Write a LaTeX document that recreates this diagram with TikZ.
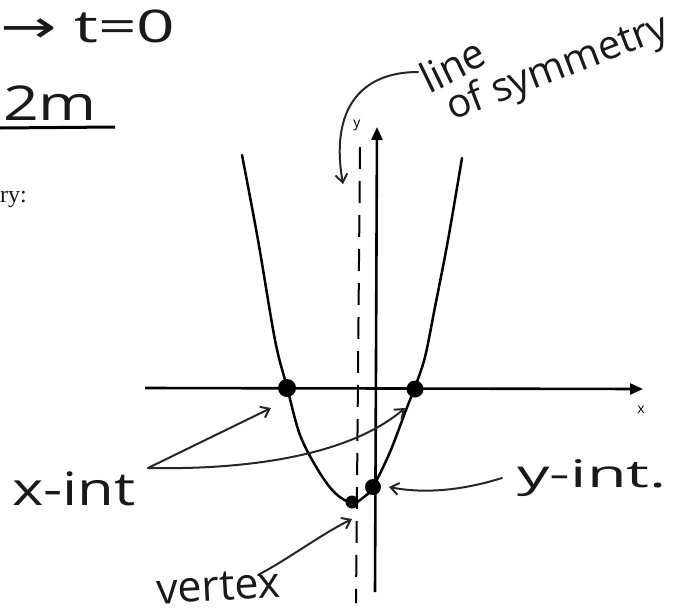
\documentclass[tikz,border=0pt]{standalone}
\usepackage{fontspec}
\setmainfont{Open Sans}
\newfontfamily\djv{DejaVu Sans}
\newfontfamily\tms{Liberation Serif}
\usetikzlibrary{arrows.meta}
\begin{document}
\begin{tikzpicture}[x=1pt,y=-1pt,
  axis/.style={line width=2.6pt,-{Triangle[length=13pt,width=11pt]}},
  curve/.style={line width=2.5pt,line cap=round},
  pointer/.style={line width=2pt,draw=black!85,line cap=round,-{Straight Barb[length=8pt,width=12pt,line width=2pt]}},
  hand/.style={inner sep=0pt,anchor=base west,text=black!90},
  dot/.style={circle,fill=black,inner sep=0pt,minimum size=#1},
  small/.style={inner sep=0pt,font=\fontsize{14}{16}\selectfont}
]
\useasboundingbox (0,0) rectangle (679,613);

% top-left fragments
\node[hand,font=\fontsize{45}{50}\selectfont,xscale=1.5] (t0) at (0,42) {{\djv →} t=0};
\node[hand,font=\fontsize{48}{52}\selectfont,xscale=1.3] (m2) at (3,120) {2m};
\coordinate (ula) at (0,128);
\coordinate (ulb) at (115,127);
\draw[line width=3pt] (ula) -- (ulb);
\node[hand,font=\tms\fontsize{24}{26}\selectfont] (ry) at (0,202) {ry:};

% axes
\coordinate (xl) at (145,388);
\coordinate (xr) at (643,389);
\coordinate (yb) at (375,592);
\coordinate (yt) at (377,127);
\draw[axis] (xl) -- (xr);
\draw[axis] (yb) -- (yt);
\node[small] (ylab) at (357,125) {y};
\node[small] (xlab) at (641,410) {x};

% line of symmetry (dashed)
\coordinate (st) at (360,147);
\coordinate (sb) at (356,603);
\draw[line width=2pt,dash pattern=on 22pt off 12pt] (st) -- (sb);

% parabola
\draw[curve] plot[smooth,tension=0.55] coordinates {
  (242,155) (258,240) (275,340) (287,387) (300,435) (318,470) (335,493)
  (352,503) (364,497) (373,487) (390,452) (406,410) (415,387) (425,357)
  (435,307) (448,240) (462,158)};

% points
\node[dot=18pt] (r1) at (287,388) {};
\node[dot=17pt] (r2) at (415,389) {};
\node[dot=16pt] (yi) at (373,487) {};
\node[dot=13pt] (vx) at (352,502) {};

% labels
\node[hand,font=\fontsize{42}{44}\selectfont,xscale=0.95,rotate=27] (line) at (429,95) {line};
\node[hand,font=\fontsize{40}{44}\selectfont,rotate=21] (sym) at (452,121) {of symmetry};
\node[hand,font=\fontsize{46}{50}\selectfont,xscale=1.3] (xint) at (12,505) {x-int};
\node[hand,font=\fontsize{38}{42}\selectfont,xscale=1.7] (yint) at (517,487) {y-int.};
\node[hand,font=\fontsize{43}{46}\selectfont,rotate=3] (vert) at (157,604) {vertex};

% pointers
\coordinate (ls) at (418,72);
\coordinate (le) at (343,184);
\draw[pointer] (ls) .. controls (360,72) and (330,110) .. (le);
\coordinate (xs) at (148,468);
\coordinate (xe1) at (271,408);
\coordinate (xe2) at (405,408);
\draw[pointer] (xs) -- (xe1);
\draw[pointer] (xs) .. controls (250,470) and (350,455) .. (xe2);
\coordinate (ys) at (502,478);
\coordinate (ye) at (389,487);
\draw[pointer] (ys) .. controls (470,488) and (430,495) .. (ye);
\coordinate (vs) at (258,575);
\coordinate (ve) at (352,519);
\draw[pointer] (vs) .. controls (290,558) and (320,535) .. (ve);
\end{tikzpicture}
\end{document}
